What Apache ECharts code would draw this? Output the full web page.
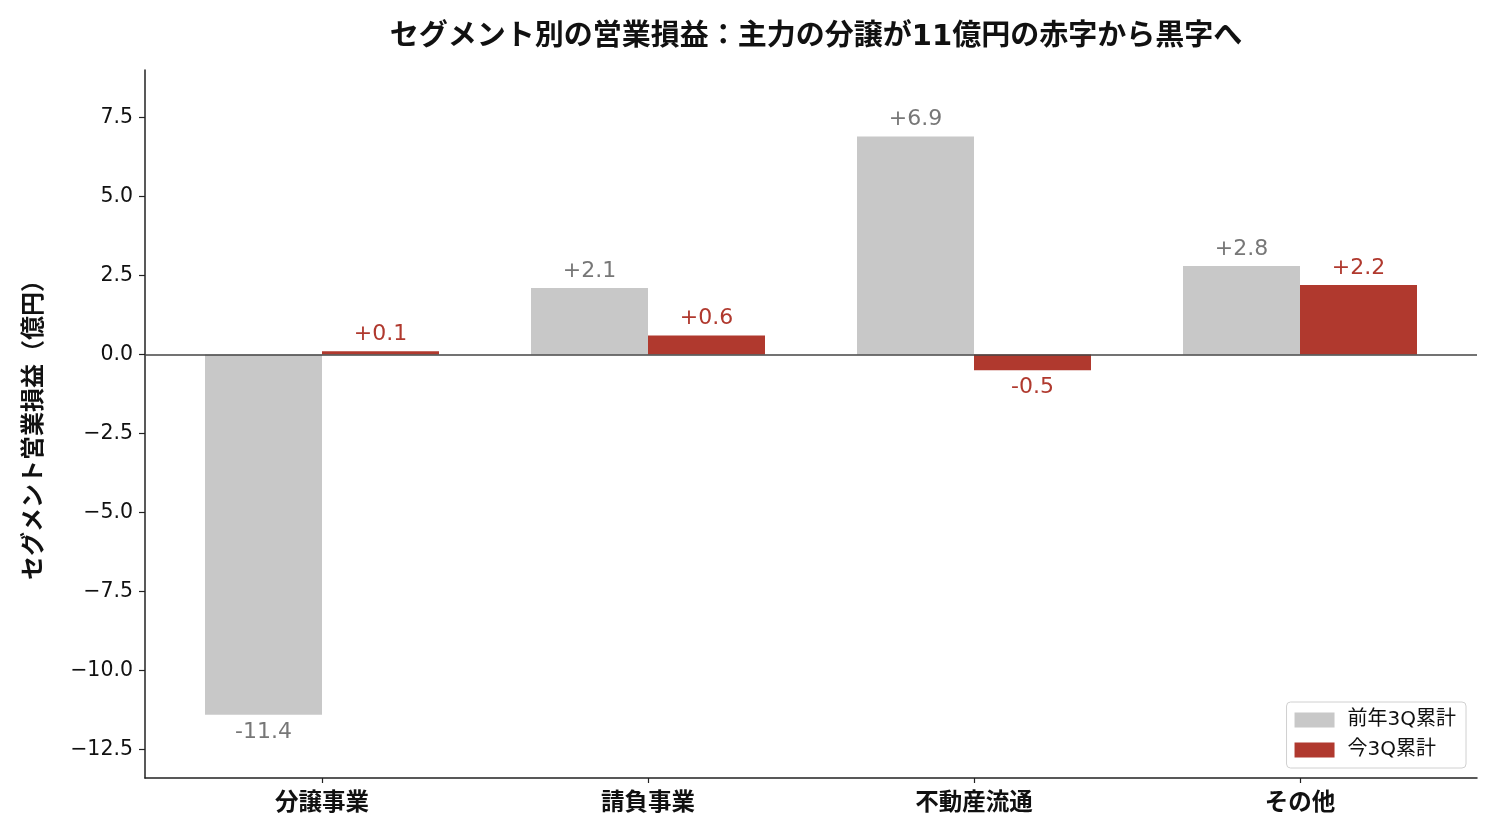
<!DOCTYPE html>
<html><head><meta charset="utf-8">
<script src="https://cdn.jsdelivr.net/npm/echarts@6/dist/echarts.min.js"></script>
<style>html,body{margin:0;padding:0;background:#fff}#c{width:1500px;height:840px}</style>
</head><body><div id="c"></div>
<script>
const categories = ['分譲事業', '請負事業', '不動産流通', 'その他'];
const prevYear = [-11.4, 2.1, 6.9, 2.8];
const thisYear = [0.1, 0.6, -0.5, 2.2];
const seriesNames = ['前年3Q累計', '今3Q累計'];
const yTicks = [-12.5, -10.0, -7.5, -5.0, -2.5, 0.0, 2.5, 5.0, 7.5];
const yMin = -13.4, yMax = 9;

const FONT = '"DejaVu Sans", "Noto Sans CJK JP", sans-serif';
const GRAY = '#c8c8c8', RED = '#b0392e';

function fmt(v){ return (v > 0 ? '+' : '') + v.toFixed(1); }
function items(arr){
  return arr.map(v => ({value: v, label: {position: v >= 0 ? 'top' : 'bottom'}}));
}

const chart = echarts.init(document.getElementById('c'));
chart.setOption({
  animation: false,
  textStyle: {fontFamily: FONT},
  title: {
    text: 'セグメント別の営業損益：主力の分譲が11億円の赤字から黒字へ',
    left: 811, top: 18, textAlign: 'center',
    textStyle: {fontFamily: FONT, fontSize: 29, fontWeight: 'bold', color: '#111'}
  },
  legend: {
    orient: 'vertical', right: 34, bottom: 72,
    icon: 'rect',
    itemWidth: 40, itemHeight: 15, itemGap: 10,
    padding: [8, 10, 8, 8],
    borderColor: '#d0d0d0', borderWidth: 1, borderRadius: 4,
    textStyle: {fontFamily: FONT, fontSize: 20, color: '#111', padding: [0, 0, 0, 8]},
    data: seriesNames
  },
  grid: [
    {left: 159, right: 37, top: 70, bottom: 62},
    {left: 145, right: 23, top: 70, bottom: 62}
  ],
  xAxis: [
    {
      type: 'category', gridIndex: 0, data: categories,
      axisLine: {show: false, onZero: false},
      axisTick: {show: true, alignWithLabel: true, length: 5, lineStyle: {color: '#222', width: 1.2}},
      axisLabel: {fontFamily: FONT, fontSize: 23.5, fontWeight: 'bold', color: '#111', margin: 14}
    },
    {
      type: 'value', gridIndex: 1, min: 0, max: 1,
      axisLine: {show: true, onZero: false, lineStyle: {color: '#222', width: 1.5}},
      axisTick: {show: false}, axisLabel: {show: false}, splitLine: {show: false}
    }
  ],
  yAxis: [
    {
      type: 'value', gridIndex: 0, min: yMin, max: yMax,
      show: false, splitLine: {show: false}
    },
    {
      type: 'value', gridIndex: 1, min: yMin, max: yMax,
      name: 'セグメント営業損益（億円）', nameLocation: 'middle', nameGap: 98,
      nameTextStyle: {fontFamily: FONT, fontSize: 24, fontWeight: 'bold', color: '#111'},
      axisLine: {show: true, lineStyle: {color: '#222', width: 1.5}},
      axisTick: {show: true, length: 6, lineStyle: {color: '#222', width: 1.2}, customValues: yTicks},
      axisLabel: {
        fontFamily: FONT, fontSize: 20.5, color: '#111', margin: 12, customValues: yTicks,
        formatter: v => (v < 0 ? '\u2212' : '') + Math.abs(v).toFixed(1)
      },
      splitLine: {show: false}
    }
  ],
  series: [
    {
      name: seriesNames[0], type: 'bar', xAxisIndex: 0, yAxisIndex: 0,
      barWidth: 117, barGap: '0%',
      itemStyle: {color: GRAY},
      label: {show: true, distance: 6, fontFamily: FONT, fontSize: 22, color: '#777',
        formatter: p => fmt(p.value)},
      data: items(prevYear)
    },
    {
      name: seriesNames[1], type: 'bar', xAxisIndex: 0, yAxisIndex: 0,
      barWidth: 117, barGap: '0%',
      itemStyle: {color: RED},
      label: {show: true, distance: 6, fontFamily: FONT, fontSize: 22, color: RED,
        formatter: p => fmt(p.value)},
      data: items(thisYear)
    },
    {
      type: 'line', xAxisIndex: 1, yAxisIndex: 1, data: [], silent: true,
      markLine: {
        silent: true, symbol: 'none', label: {show: false},
        lineStyle: {color: '#444', width: 1.5, type: 'solid'},
        data: [{yAxis: 0}]
      }
    }
  ]
});
</script></body></html>
